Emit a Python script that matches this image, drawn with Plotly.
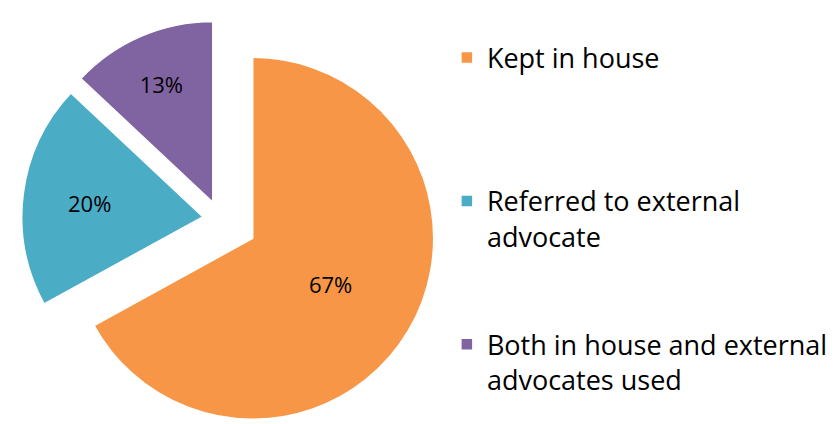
import plotly.graph_objects as go

labels = ["Kept in house", "Referred to external advocate", "Both in house and external advocates used"]
legend_text = ["Kept in house<br> <br> <br> ", "Referred to external<br>advocate<br> <br> ", "Both in house and external<br>advocates used"]
values = [67, 20, 13]
colors = ["#F79646", "#4BACC6", "#8064A2"]
pulls = [0.21, 0.096, 0.10]

FIG_H = 438

fig = go.Figure(go.Pie(
    labels=legend_text,
    values=values,
    sort=False,
    direction="clockwise",
    rotation=0,
    pull=pulls,
    marker=dict(colors=colors, line=dict(color="white", width=1.5)),
    textinfo="percent",
    textposition="inside",
    insidetextorientation="horizontal",
    insidetextfont=dict(family="Open Sans", size=22, color="#000000"),
    domain=dict(x=[0, 0.5238], y=[0, 1]),
    hoverinfo="label+percent",
))

fig.update_layout(
    width=840, height=FIG_H,
    margin=dict(l=0, r=0, t=0, b=0, autoexpand=False),
    paper_bgcolor="white",
    plot_bgcolor="white",
    showlegend=True,
    legend=dict(
        x=0.532, y=1 - 33.5 / FIG_H, xanchor="left", yanchor="top",
        font=dict(family="Open Sans", size=27, color="#000000"),
        valign="top",
        bgcolor="rgba(0,0,0,0)",
    ),
)

fig.write_html(
    "out.html",
    config={"displayModeBar": False},
    post_script="document.body.style.margin='0';document.body.style.overflow='hidden';document.documentElement.style.overflow='hidden';",
)
